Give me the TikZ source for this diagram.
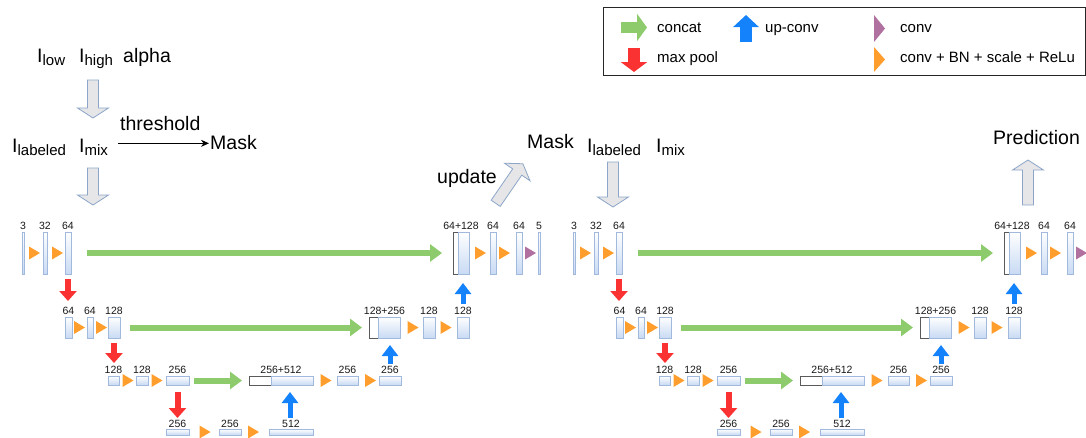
\documentclass[tikz,border=0pt]{standalone}
\usepackage{fontspec}
\setmainfont{Liberation Sans}
\usetikzlibrary{arrows.meta,calc}
\definecolor{greenC}{RGB}{141,203,108}
\definecolor{redC}{RGB}{250,50,50}
\definecolor{blueC}{RGB}{20,130,250}
\definecolor{orangeC}{RGB}{255,158,45}
\definecolor{purpleC}{RGB}{176,112,160}
\definecolor{barD}{RGB}{160,185,220}
\definecolor{barF}{RGB}{200,218,244}
\definecolor{cwD}{RGB}{90,90,90}
\definecolor{gBord}{RGB}{140,165,200}
\definecolor{gFill}{RGB}{230,230,232}
\newcommand\sbt[1]{\raisebox{-3pt}{\fontsize{15}{15}\selectfont #1}}
\newcommand\blab[3][2.5]{\node[labs] (#2-t) at ([yshift=#1pt]#2.north) {#3};}
\tikzset{
  bar/.style={draw=barD, line width=0.6pt, top color=white, bottom color=barF, inner sep=0pt, outer sep=0pt, anchor=north west},
  cw/.style={draw=cwD, line width=0.6pt, fill=white, inner sep=0pt, outer sep=0pt, anchor=north west},
  labs/.style={font=\fontsize{10.5}{10.5}\selectfont, inner sep=0pt, anchor=base, text=black!90},
  txt/.style={font=\fontsize{19.5}{20}\selectfont, inner sep=0pt, anchor=base west},
  legt/.style={font=\fontsize{15}{15}\selectfont, inner sep=0pt, anchor=base west},
  catarr/.style={draw=greenC, line width=6pt, -{Triangle[width=17pt,length=12pt]}},
  poolarr/.style={draw=redC, line width=6pt, -{Triangle[width=17pt,length=10pt]}},
  uparr/.style={draw=blueC, line width=5pt, -{Triangle[width=16pt,length=11pt]}},
  garrs/.style={draw=gBord, line width=0.8pt, fill=gFill, line join=miter},
  pics/otri/.style={code={\fill[orangeC] (-5.5,-6.5) -- (5.5,0) -- (-5.5,6.5) -- cycle;}},
  pics/ptri/.style={code={\fill[purpleC] (-5.5,-6.5) -- (5.5,0) -- (-5.5,6.5) -- cycle;}},
  pics/garrow/.style={code={\draw[garrs] (0,-5.5) -- ({#1-10},-5.5) -- ({#1-10},-15.5) -- (#1,0) -- ({#1-10},15.5) -- ({#1-10},5.5) -- (0,5.5) -- cycle;}},
}
\newcommand\unet[1]{%
  % level 1
  \node[bar, minimum width=2.3pt, minimum height=42pt] (#1a11) at (22,232) {};
  \node[bar, minimum width=4pt, minimum height=42pt] (#1a12) at (43,232) {};
  \node[bar, minimum width=6pt, minimum height=42pt] (#1a13) at (65,232) {};
  \pic at (34.5,253) {otri};
  \pic at (57.5,253) {otri};
  \blab{#1a11}{3}\blab{#1a12}{32}\blab{#1a13}{64}
  \node[cw, minimum width=5pt, minimum height=42pt] (#1c1w) at (453,232) {};
  \node[bar, minimum width=11pt, minimum height=42pt] (#1c1b) at (458,232) {};
  \node[labs] (#1c1-t) at ($(#1c1w.north west)!0.5!(#1c1b.north east)+(0,-2.5)$) {64+128};
  \pic at (480.5,253) {otri};
  \node[bar, minimum width=6pt, minimum height=42pt] (#1d12) at (490,232) {};
  \pic at (504.5,253) {otri};
  \node[bar, minimum width=6pt, minimum height=42pt] (#1d13) at (516,232) {};
  \pic at (530.5,253) {ptri};
  \blab{#1d12}{64}\blab{#1d13}{64}
  \draw[catarr] ($(#1a13.east)+(16,0)$) -- ($(#1c1w.west)+(-11,0)$);
  \draw[poolarr] ($(#1a13.south)+(0,5)$) -- ($(#1a13.south)+(0,27)$);
  % level 2
  \node[bar, minimum width=7pt, minimum height=21pt] (#1b11) at (65,317) {};
  \pic at (79.5,327.5) {otri};
  \node[bar, minimum width=6pt, minimum height=21pt] (#1b12) at (87,317) {};
  \pic at (101.5,327.5) {otri};
  \node[bar, minimum width=12pt, minimum height=21pt] (#1b13) at (108,317) {};
  \blab{#1b11}{64}\blab{#1b12}{64}\blab{#1b13}{128}
  \node[cw, minimum width=9pt, minimum height=21pt] (#1c2w) at (369,317) {};
  \node[bar, minimum width=22pt, minimum height=21pt] (#1c2b) at (378,317) {};
  \node[labs] (#1c2-t) at ($(#1c2w.north west)!0.5!(#1c2b.north east)+(0,-2.5)$) {128+256};
  \pic at (413,327.5) {otri};
  \node[bar, minimum width=12pt, minimum height=21pt] (#1b22) at (423,317) {};
  \pic at (446,327.5) {otri};
  \node[bar, minimum width=12pt, minimum height=21pt] (#1b23) at (457,317) {};
  \blab{#1b22}{128}\blab{#1b23}{128}
  \draw[catarr] ($(#1b13.east)+(10,0)$) -- ($(#1c2w.west)+(-7,0)$);
  \draw[uparr] ($(#1b23.north)+(0,-13)$) -- ($(#1b23.north)+(0,-34)$);
  \draw[poolarr] ($(#1b13.south)+(0,5)$) -- ($(#1b13.south)+(0,25)$);
  % level 3
  \node[bar, minimum width=11pt, minimum height=9pt] (#1e11) at (108,376) {};
  \pic at (128,380.5) {otri};
  \node[bar, minimum width=12pt, minimum height=9pt] (#1e12) at (136,376) {};
  \pic at (157,380.5) {otri};
  \node[bar, minimum width=23pt, minimum height=9pt] (#1e13) at (166,376) {};
  \blab{#1e11}{128}\blab{#1e12}{128}\blab{#1e13}{256}
  \node[cw, minimum width=22pt, minimum height=9pt] (#1c3w) at (249,376) {};
  \node[bar, minimum width=42pt, minimum height=9pt] (#1c3b) at (271,376) {};
  \node[labs] (#1c3-t) at ($(#1c3w.north west)!0.5!(#1c3b.north east)+(0,-2.5)$) {256+512};
  \pic at (326,380.5) {otri};
  \node[bar, minimum width=21pt, minimum height=9pt] (#1e22) at (337,376) {};
  \pic at (370.5,380.5) {otri};
  \node[bar, minimum width=22pt, minimum height=9pt] (#1e23) at (379,376) {};
  \blab{#1e22}{256}\blab{#1e23}{256}
  \draw[catarr] ($(#1e13.east)+(5,0)$) -- ($(#1c3w.west)+(-7,0)$);
  \draw[uparr] ($(#1e23.north)+(0,-12)$) -- ($(#1e23.north)+(0,-31)$);
  \draw[poolarr] ($(#1e13.south)+(0,7)$) -- ($(#1e13.south)+(0,33)$);
  % level 4
  \node[bar, minimum width=23pt, minimum height=6pt] (#1f1) at (166,429) {};
  \pic at (205,432) {otri};
  \node[bar, minimum width=22pt, minimum height=6pt] (#1f2) at (219,429) {};
  \pic at (253.5,432) {otri};
  \node[bar, minimum width=44pt, minimum height=6pt] (#1f3) at (269,429) {};
  \blab[1.2]{#1f1}{256}\blab[1.2]{#1f2}{256}\blab[1.2]{#1f3}{512}
  \draw[uparr] ($(#1f3.north)+(-1,-11)$) -- ($(#1f3.north)+(-1,-37)$);
}
\begin{document}
\begin{tikzpicture}[x=1pt,y=-1pt]
\useasboundingbox (0,0) rectangle (1086,437);
\clip (0,0) rectangle (1086,437);
% legend
\node[draw=black!85, line width=1.1pt, minimum width=482pt, minimum height=68pt, inner sep=0pt, anchor=north west] (legend) at (603,7) {};
\draw[draw=greenC, line width=11pt, -{Triangle[width=27pt,length=10pt]}] (621,27.5) -- (647,27.5);
\draw[draw=blueC, line width=12pt, -{Triangle[width=25pt,length=12pt]}] (746,42) -- (746,15);
\draw[draw=redC, line width=12pt, -{Triangle[width=26pt,length=10pt]}] (634,48) -- (634,72);
\fill[purpleC] (874,15) -- (885,28.5) -- (874,42) -- cycle;
\fill[orangeC] (874,47) -- (885,59.5) -- (874,72) -- cycle;
\node[legt] (lg1) at (657,32) {concat};
\node[legt] (lg2) at (765,32) {up-conv};
\node[legt] (lg3) at (900,32) {conv};
\node[legt] (lg4) at (657,62) {max pool};
\node[legt] (lg5) at (900,62) {conv + BN + scale + ReLu};
% top-left texts
\node[txt] (ilow) at (37,62) {I\sbt{low}};
\node[txt] (ihigh) at (79,62) {I\sbt{high}};
\node[txt] (alpha) at (123,62) {alpha};
\node[txt] (ilab) at (12,152) {I\sbt{labeled}};
\node[txt] (imix) at (79,152) {I\sbt{mix}};
\node[txt] (thr) at (120,130) {threshold};
\node[txt] (mask1) at (210,149) {Mask};
\draw[line width=0.9pt, -{Stealth[length=8pt,width=7pt]}] ($(imix.base east)+(10,-8.7)$) -- ($(mask1.base west)+(-1,-5.7)$);
\pic[rotate=-90] at (93,80) {garrow=38};
\pic[rotate=-90] at (93,168) {garrow=37};
% middle texts
\node[txt] (upd) at (437,183) {update};
\pic[rotate=55.5] at (495.7,203.3) {garrow=48};
\node[txt] (mask2) at (527,148) {Mask};
\node[txt] (ilab2) at (587,152) {I\sbt{labeled}};
\node[txt] (imix2) at (656,152) {I\sbt{mix}};
\pic[rotate=-90] at (613,162) {garrow=45};
\node[txt] (pred) at (993,144) {Prediction};
\pic[rotate=90] at (1028,205) {garrow=45};
% networks
\unet{p}
\node[bar, minimum width=2pt, minimum height=42pt] (pd14) at (538,232) {};
\blab{pd14}{5}
\begin{scope}[xshift=551pt]
\unet{n}
\end{scope}
\end{tikzpicture}
\end{document}
